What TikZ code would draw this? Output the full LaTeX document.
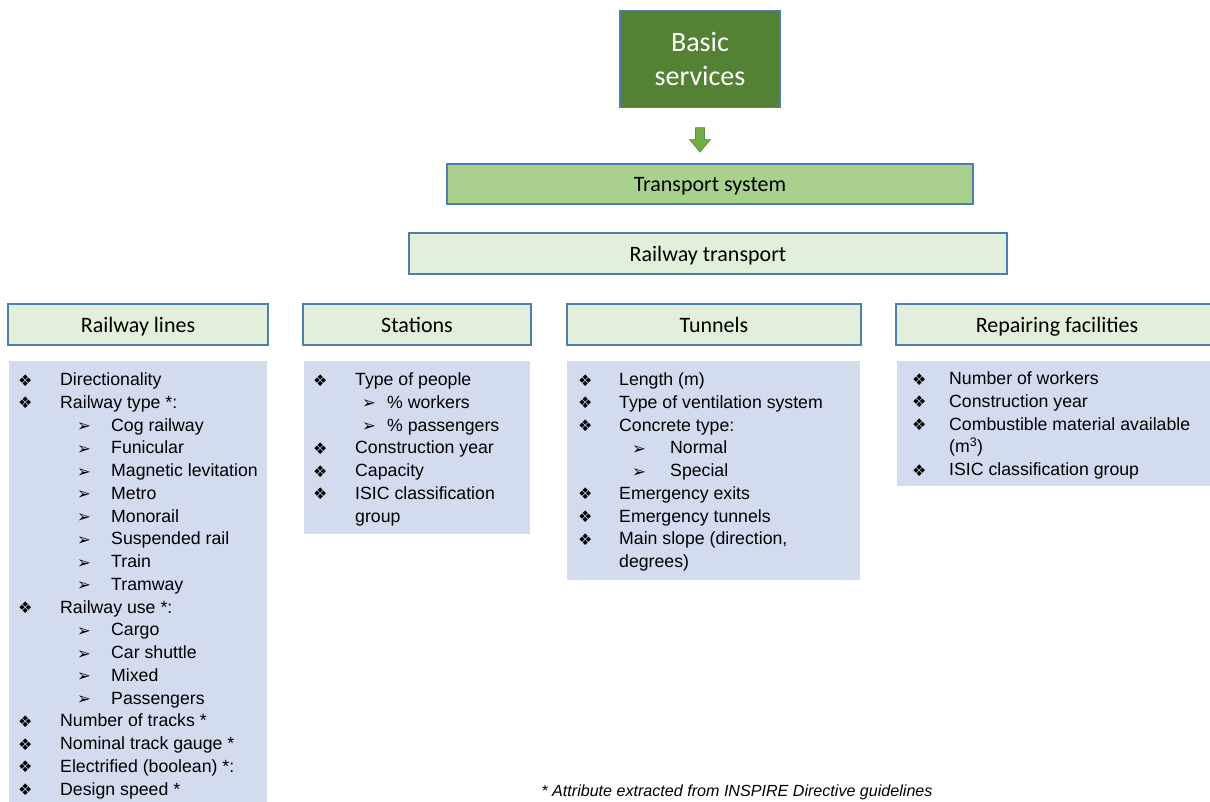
\documentclass[tikz,border=0pt]{standalone}
\usepackage{fontspec}
\usetikzlibrary{calc}
\setmainfont{Liberation Sans}
\newfontfamily\hdfont{Carlito}
\newfontfamily\symfont{DejaVu Sans}

\definecolor{darkgreen}{HTML}{548235}
\definecolor{midgreen}{HTML}{A9D18E}
\definecolor{palegreen}{HTML}{E2EFDA}
\definecolor{arrowgreen}{HTML}{70AD47}
\definecolor{edgeblue}{HTML}{4F7DAF}
\definecolor{listfill}{HTML}{D3DCEE}

\tikzset{
  topbox/.style={draw=edgeblue, line width=1.2pt, fill=darkgreen, text=white,
    font=\hdfont\fontsize{28}{34}\selectfont, align=center,
    minimum width=160, minimum height=97, inner sep=0},
  catbox/.style={draw=edgeblue, line width=1.2pt, inner sep=0,
    font=\hdfont\fontsize{22}{26}\selectfont, minimum height=41,
    text height=17, text depth=2},
  listbox/.style={fill=listfill, inner sep=0},
  itemtxt/.style={anchor=base west, inner sep=0,
    font=\fontsize{17.7}{22}\selectfont},
  dotsym/.style={anchor=base west, inner sep=0,
    font=\symfont\fontsize{16}{18}\selectfont},
  tipsym/.style={anchor=base west, inner sep=0,
    font=\symfont\fontsize{16.5}{18}\selectfont},
  note/.style={inner sep=0, font=\itshape\fontsize{16.1}{18}\selectfont}
}

% #1 name prefix, #2 bullet x, #3 text x, #4 sub-bullet x, #5 sub-text x,
% #6 first baseline y, #7 list of level/text pairs (0 = continuation line)
\newcommand\itemlist[7]{%
  \foreach \lv/\tx [count=\i] in {#7}{%
    \pgfmathsetmacro\yy{#6+(\i-1)*22.75}
    \ifnum\lv=1
      \node[dotsym] (#1b\i) at (#2,\yy+0.5) {❖};
      \node[itemtxt] (#1t\i) at (#3,\yy) {\tx};
    \fi
    \ifnum\lv=2
      \node[tipsym] (#1b\i) at (#4,\yy+0.5) {➢};
      \node[itemtxt] (#1t\i) at (#5,\yy) {\tx};
    \fi
    \ifnum\lv=0
      \node[itemtxt] (#1t\i) at (#3,\yy) {\tx};
    \fi
  }%
}

\begin{document}
\begin{tikzpicture}[x=1pt,y=-1pt]
\useasboundingbox (0,0) rectangle (1210,801);
\clip (0,0) rectangle (1210,801);

% hierarchy header
\node[topbox] (basic) at (700,59) {Basic\\services};
\node[catbox, fill=midgreen, minimum width=526, minimum height=40] (transport) at (710,184) {Transport system};
\node[catbox, fill=palegreen, minimum width=598] (railway) at (708,253.5) {Railway transport};

% block arrow from the top box down to the system box
\coordinate (flowtop) at ($(basic.south)+(0,19.5)$);
\filldraw[fill=arrowgreen, draw=arrowgreen!80!black, line width=0.6pt]
  (flowtop) ++(-4.5,0) -- ++(9,0) -- ++(0,12) -- ++(6,0) -- ++(-10.5,12.5)
  -- ++(-10.5,-12.5) -- ++(6,0) -- cycle;

% category headers
\node[catbox, fill=palegreen, minimum width=260] (lines) at (138,324.5) {Railway lines};
\node[catbox, fill=palegreen, minimum width=228] (stations) at (417,324.5) {Stations};
\node[catbox, fill=palegreen, minimum width=294] (tunnels) at (714,324.5) {Tunnels};
\node[catbox, fill=palegreen, minimum width=322] (repair) at (1057,324.5) {Repairing facilities};

% attribute panels
\node[listbox, minimum width=258, minimum height=449] (linesbody) at (138,585.5) {};
\node[listbox, minimum width=226, minimum height=173] (stationsbody) at (417,447.5) {};
\node[listbox, minimum width=293, minimum height=219] (tunnelsbody) at (713.5,470.5) {};
\node[listbox, minimum width=321, minimum height=125] (repairbody) at (1057.5,423.5) {};

\itemlist{rl}{18}{60}{77}{111}{385.5}{%
  1/Directionality, 1/Railway type *:, 2/Cog railway, 2/Funicular,
  2/Magnetic levitation, 2/Metro, 2/Monorail, 2/Suspended rail, 2/Train,
  2/Tramway, 1/Railway use *:, 2/Cargo, 2/Car shuttle, 2/Mixed,
  2/Passengers, 1/Number of tracks *, 1/Nominal track gauge *,
  1/Electrified (boolean) *:, 1/Design speed *}

\itemlist{st}{313}{355}{362}{387}{385.5}{%
  1/Type of people, 2/\% workers, 2/\% passengers, 1/Construction year,
  1/Capacity, 1/ISIC classification, 0/group}

\itemlist{tu}{578}{619}{632}{670}{385.5}{%
  1/Length (m), 1/Type of ventilation system, 1/Concrete type:,
  2/Normal, 2/Special, 1/Emergency exits, 1/Emergency tunnels,
  1/{Main slope (direction,}, 0/degrees)}

\itemlist{rf}{912}{949}{960}{990}{384.5}{%
  1/Number of workers, 1/Construction year,
  1/Combustible material available, 0/(m\textsuperscript{3}),
  1/ISIC classification group}

\node[note] (footnote) at (737,792) {* Attribute extracted from INSPIRE Directive guidelines};
\end{tikzpicture}
\end{document}
